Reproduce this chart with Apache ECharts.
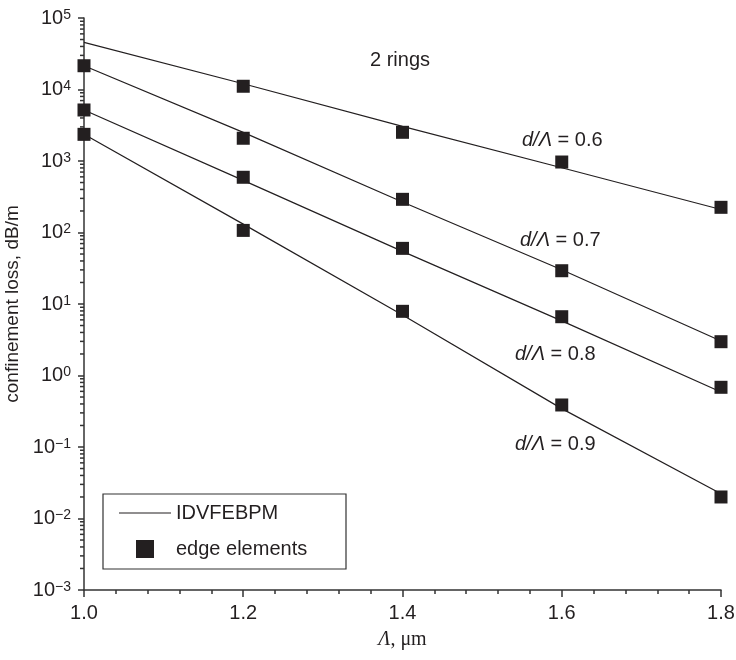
<!DOCTYPE html>
<html>
<head>
<meta charset="utf-8">
<script src="https://cdn.jsdelivr.net/npm/echarts@6/dist/echarts.min.js"></script>
<style>html,body{margin:0;padding:0;background:#fff;}#chart{width:736px;height:660px;}</style>
</head>
<body>
<div id="chart"></div>
<script>
// ---- data ----
const lambda = [1.0, 1.2, 1.4, 1.6, 1.8];
// IDVFEBPM lines (dB/m)
const line06 = [45700, 12050, 3055, 804, 210];
const line07 = [21500, 2510, 267, 30.1, 3.04];
const line08 = [5170, 536, 54.5, 5.81, 0.587];
const line09 = [2360, 131, 7.0, 0.344, 0.0222];
// edge elements (squares)
const sq06 = [null, 11100, 2520, 968, 225];
const sq07 = [21500, 2080, 291, 29.2, 2.97];
const sq08 = [5170, 592, 60, 6.64, 0.684];
const sq09 = [2360, 107, 7.9, 0.387, 0.020];
const xTicks = ['1.0', '1.2', '1.4', '1.6', '1.8'];
const yDecades = [-3, -2, -1, 0, 1, 2, 3, 4];
const minorMult = [2, 3, 4, 5, 6, 7, 8, 9];
const labelValues = ['0.6', '0.7', '0.8', '0.9'];

const C = '#231f20';
const A = '#333';
const F = 'Liberation Sans';
const toPairs = arr => lambda.map((x, i) => [x, arr[i]]).filter(p => p[1] != null);

const lineSeries = [line06, line07, line08, line09].map(arr => ({
  type: 'line', name: 'IDVFEBPM', data: toPairs(arr), symbol: 'none',
  lineStyle: { color: C, width: 1.2 }, itemStyle: { color: C }, silent: true, z: 2
}));
const squares = [].concat(toPairs(sq06), toPairs(sq07), toPairs(sq08), toPairs(sq09));
const minorData = [];
yDecades.forEach(d => minorMult.forEach(m => minorData.push([lambda[0], m * Math.pow(10, d)])));

const chart = echarts.init(document.getElementById('chart'));
chart.setOption({
  backgroundColor: '#fff',
  animation: false,
  grid: { left: 84, right: 15, top: 18, bottom: 70, containLabel: false, outerBoundsMode: 'none' },
  xAxis: {
    type: 'value', min: 1.0, max: 1.8, interval: 0.2,
    name: '{i|Λ}, μm', nameLocation: 'middle', nameGap: 40,
    nameTextStyle: { fontFamily: 'Liberation Serif', fontSize: 20, color: C,
      rich: { i: { fontFamily: 'Liberation Serif', fontStyle: 'italic', fontSize: 20, color: C } } },
    axisLine: { lineStyle: { color: A, width: 1.5 } },
    axisTick: { show: true, length: 7, lineStyle: { color: A, width: 1.5 } },
    minorTick: { show: true, splitNumber: 5, length: 4, lineStyle: { color: A, width: 1.5 } },
    splitLine: { show: false },
    axisLabel: { fontFamily: F, fontSize: 20, color: C, margin: 13,
      formatter: v => xTicks[Math.round((v - 1.0) / 0.2)] }
  },
  yAxis: {
    type: 'log', logBase: 10, min: 1e-3, max: 1e5, splitNumber: 8,
    name: 'confinement loss, dB/m', nameLocation: 'middle', nameGap: 59,
    nameTextStyle: { fontFamily: F, fontSize: 19, color: C },
    axisLine: { show: true, lineStyle: { color: A, width: 1.5 } },
    axisTick: { show: true, length: 6, lineStyle: { color: A, width: 1.5 } },
    splitLine: { show: false },
    axisLabel: {
      margin: 13, color: C,
      formatter: v => {
        const e = Math.round(Math.log10(v));
        return '{b|10}{s|' + (e < 0 ? '\u2212' + (-e) : e) + '}';
      },
      rich: {
        b: { fontFamily: F, fontSize: 20, color: C, lineHeight: 20 },
        s: { fontFamily: F, fontSize: 14, color: C, verticalAlign: 'top', lineHeight: 12 }
      }
    }
  },
  legend: [
    { data: [{ name: 'IDVFEBPM', icon: 'rect' }], left: 114, top: 498, itemWidth: 52, itemHeight: 1.2,
      selectedMode: false,
      textStyle: { fontFamily: F, fontSize: 20, color: C, lineHeight: 20, padding: [0, 0, 0, 0] } },
    { data: [{ name: 'edge elements', icon: 'rect' }], left: 131, top: 534, itemWidth: 18, itemHeight: 18,
      selectedMode: false,
      textStyle: { fontFamily: F, fontSize: 20, color: C, lineHeight: 20, padding: [0, 0, 0, 17] } }
  ],
  graphic: [
    { type: 'rect', shape: { x: 103, y: 494, width: 243, height: 75 },
      style: { fill: null, stroke: A, lineWidth: 1.2 }, z: 10 },
    { type: 'text', left: 370, top: 50,
      style: { text: '2 rings', fontFamily: F, fontSize: 20, fill: C } },
    ...[[522, 130], [520, 230], [515, 344], [515, 434]].map((p, i) => ({
      type: 'text', left: p[0], top: p[1],
      style: {
        text: '{i|d/Λ} = ' + labelValues[i],
        rich: { i: { fontFamily: F, fontStyle: 'italic', fontSize: 20, fill: C } },
        fontFamily: F, fontSize: 20, fill: C
      }
    }))
  ],
  series: [
    ...lineSeries,
    { type: 'scatter', name: 'edge elements', data: squares, symbol: 'rect', symbolSize: 13,
      itemStyle: { color: C, opacity: 1 }, silent: true, z: 3 },
    { type: 'scatter', name: 'minorTicks', data: minorData, symbol: 'rect', symbolSize: [4, 1.5],
      symbolOffset: [-2, 0], itemStyle: { color: A, opacity: 1 }, silent: true, clip: false, z: 1 }
  ]
});
</script>
</body>
</html>
